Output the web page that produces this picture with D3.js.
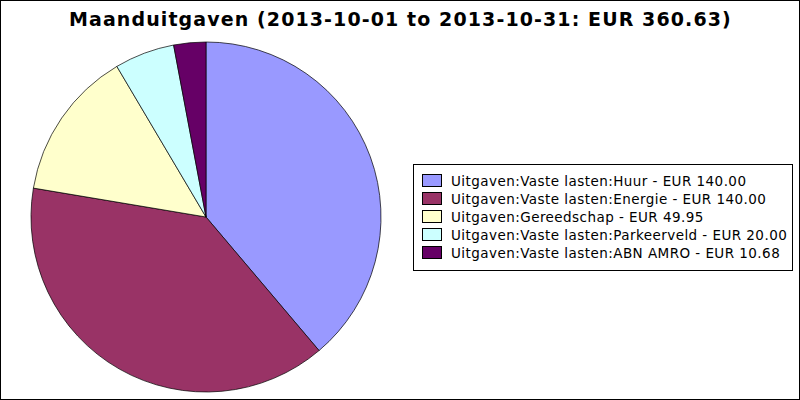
<!DOCTYPE html>
<html><head><meta charset="utf-8">
<script src="https://cdn.jsdelivr.net/npm/d3@7"></script>
<style>body{margin:0;background:#fff}svg{display:block}</style>
</head><body>
<script>
const categories = ["Uitgaven:Vaste lasten:Huur","Uitgaven:Vaste lasten:Energie","Uitgaven:Gereedschap","Uitgaven:Vaste lasten:Parkeerveld","Uitgaven:Vaste lasten:ABN AMRO"];
const values = [140.00, 140.00, 49.95, 20.00, 10.68];
const labels = ["EUR 140.00","EUR 140.00","EUR 49.95","EUR 20.00","EUR 10.68"];
const colors = ["#9999ff","#993366","#ffffcc","#ccffff","#660066"];
const title = "Maanduitgaven (2013-10-01 to 2013-10-31: EUR 360.63)";

const W=800,H=400;
const svg=d3.select("body").append("svg").attr("width",W).attr("height",H);
svg.append("rect").attr("x",0.5).attr("y",0.5).attr("width",W-1).attr("height",H-1).attr("fill","#fff").attr("stroke","#000");
svg.append("text").attr("x",69).attr("y",26).attr("text-anchor","start")
  .attr("font-family","DejaVu Sans").attr("font-weight","bold").attr("font-size",19)
  .attr("letter-spacing",1.1).text(title);

const cx=206,cy=217,r=175;
const pie=d3.pie().sort(null).value(d=>d)(values);
const arc=d3.arc().innerRadius(0).outerRadius(r);
const g=svg.append("g").attr("transform",`translate(${cx},${cy})`);
g.selectAll("path").data(pie).join("path").attr("d",arc)
 .attr("fill",(d,i)=>colors[i]).attr("stroke","#000").attr("stroke-width",0.7).attr("stroke-linejoin","round");

const lx=413,ly=164,lw=379,lh=106;
svg.append("clipPath").attr("id","lc").append("rect").attr("x",lx).attr("y",ly).attr("width",lw).attr("height",lh);
svg.append("rect").attr("x",lx+0.5).attr("y",ly+0.5).attr("width",lw).attr("height",lh).attr("fill","#fff").attr("stroke","#000");
const lg=svg.append("g").attr("clip-path","url(#lc)");
const rows=lg.selectAll("g").data(categories).join("g").attr("transform",(d,i)=>`translate(0,${ly+10+i*18})`);
rows.append("rect").attr("x",422.5).attr("y",0.5).attr("width",19).attr("height",12).attr("fill",(d,i)=>colors[i]).attr("stroke","#000").attr("stroke-width",1);
rows.append("text").attr("x",451).attr("y",12).attr("font-family","DejaVu Sans").attr("font-size",13.5)
 .attr("letter-spacing",0.45).text((d,i)=>d+" - "+labels[i]);
</script>
</body></html>
